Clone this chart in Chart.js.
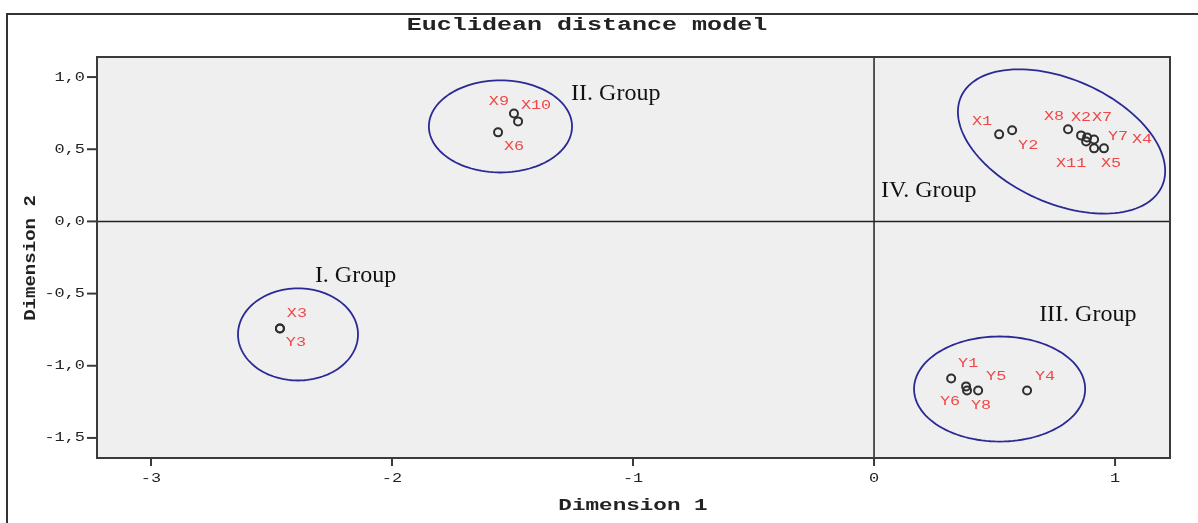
<!DOCTYPE html>
<html lang="en">
<head>
<meta charset="UTF-8">
<title>Euclidean distance model</title>
<script src="https://cdn.jsdelivr.net/npm/chart.js"></script>
<style>
  body { margin: 0; background: #fff; }
  canvas { display: block; }
</style>
</head>
<body>
<canvas id="myChart" width="1198" height="523"></canvas>
<script>
// stimulus coordinates
const names = ['X1','Y2','X8','X2','X7','Y7','X11','X5','X4',
               'Y1','Y6','Y8','Y5','Y4',
               'X9','X10','X6',
               'X3','Y3'];
const dim1 = [0.519, 0.573, 0.805, 0.859, 0.884, 0.913, 0.880, 0.913, 0.954,
              0.320, 0.382, 0.386, 0.432, 0.635,
              -1.494, -1.477, -1.560,
              -2.465, -2.465];
const dim2 = [0.603, 0.631, 0.638, 0.596, 0.582, 0.568, 0.554, 0.506, 0.506,
              -1.088, -1.143, -1.171, -1.171, -1.171,
              0.748, 0.693, 0.617,
              -0.742, -0.742];

const xTicks = [-3, -2, -1, 0, 1];
const xTickLabels = ['-3', '-2', '-1', '0', '1'];
const yTicks = [1.0, 0.5, 0.0, -0.5, -1.0, -1.5];
const yTickLabels = ['1,0', '0,5', '0,0', '-0,5', '-1,0', '-1,5'];

// group rings: centre and two conjugate half-axes, in data units
const groupNames = ['I. Group', 'II. Group', 'III. Group', 'IV. Group'];
const ringCx = [-2.390, -1.550, 0.521, 0.778];
const ringCy = [-0.783, 0.658, -1.161, 0.554];
const ringUx = [0.249, 0.297, 0.355, 0.417];
const ringUy = [0, 0, 0, -0.310];
const ringVx = [0, 0, 0, -0.105];
const ringVy = [0.319, 0.319, 0.364, -0.392];
const groupTextX = [-2.320, -1.257, 0.685, 0.029];
const groupTextY = [-0.374, 0.887, -0.644, 0.215];

// label offsets from each point, in pixels
const labelDx = [-17, 16, -14, 0, 15, 24, -15, 17, 38, 17, -16, 14, 18, 18, -15, 18, 16, 17, 16];
const labelDy = [-13, 15, -12, -18, -20, -3, 22, 15, -9, -15, 15, 15, -14, -14, -12, -16, 14, -15, 14];

const MONO = '"Liberation Mono", "DejaVu Sans Mono", monospace';
const SERIF = '"Liberation Serif", "DejaVu Serif", serif';

function stretchText(ctx, text, x, y, sx, align) {
    ctx.save();
    ctx.translate(x, y);
    ctx.scale(sx, 1);
    ctx.textAlign = align || 'center';
    ctx.textBaseline = 'middle';
    ctx.fillText(text, 0, 0);
    ctx.restore();
}

const spssPlugin = {
    id: 'spss',
    beforeDatasetsDraw(chart) {
        const { ctx, chartArea: a, scales: { x, y } } = chart;
        ctx.save();
        // plot background
        ctx.fillStyle = '#efefef';
        ctx.fillRect(a.left, a.top, a.right - a.left, a.bottom - a.top);
        // reference lines
        ctx.strokeStyle = '#222';
        ctx.lineWidth = 1.5;
        ctx.beginPath();
        ctx.moveTo(x.getPixelForValue(0), a.top);
        ctx.lineTo(x.getPixelForValue(0), a.bottom);
        ctx.moveTo(a.left, y.getPixelForValue(0));
        ctx.lineTo(a.right, y.getPixelForValue(0));
        ctx.stroke();
        // group rings
        ctx.strokeStyle = '#2a2a95';
        ctx.lineWidth = 1.8;
        for (let g = 0; g < groupNames.length; g++) {
            ctx.beginPath();
            for (let k = 0; k <= 120; k++) {
                const t = k / 120 * Math.PI * 2;
                const vx = ringCx[g] + ringUx[g] * Math.cos(t) + ringVx[g] * Math.sin(t);
                const vy = ringCy[g] + ringUy[g] * Math.cos(t) + ringVy[g] * Math.sin(t);
                const px = x.getPixelForValue(vx), py = y.getPixelForValue(vy);
                if (k === 0) ctx.moveTo(px, py); else ctx.lineTo(px, py);
            }
            ctx.closePath();
            ctx.stroke();
        }
        ctx.restore();
    },
    afterDatasetsDraw(chart) {
        const { ctx, chartArea: a, scales: { x, y } } = chart;
        ctx.save();
        // outer frame (only top and left show)
        ctx.strokeStyle = '#333';
        ctx.lineWidth = 2;
        ctx.beginPath();
        ctx.moveTo(1198, 14);
        ctx.lineTo(7, 14);
        ctx.lineTo(7, 523);
        ctx.stroke();
        // plot border
        ctx.strokeStyle = '#3a3a3a';
        ctx.lineWidth = 2;
        ctx.strokeRect(a.left, a.top, a.right - a.left, a.bottom - a.top);
        // ticks
        ctx.lineWidth = 2;
        ctx.fillStyle = '#222';
        ctx.font = '13px ' + MONO;
        xTicks.forEach((v, i) => {
            const px = x.getPixelForValue(v);
            ctx.beginPath();
            ctx.moveTo(px, a.bottom);
            ctx.lineTo(px, a.bottom + 8);
            ctx.stroke();
            stretchText(ctx, xTickLabels[i], px, a.bottom + 21, 1.3);
        });
        yTicks.forEach((v, i) => {
            const py = y.getPixelForValue(v);
            ctx.beginPath();
            ctx.moveTo(a.left - 10, py);
            ctx.lineTo(a.left, py);
            ctx.stroke();
            stretchText(ctx, yTickLabels[i], a.left - 12, py, 1.3, 'right');
        });
        // titles
        ctx.font = 'bold 18px ' + MONO;
        stretchText(ctx, 'Euclidean distance model', 587, 25, 1.39);
        ctx.font = 'bold 17px ' + MONO;
        stretchText(ctx, 'Dimension 1', 633, 506, 1.33);
        ctx.save();
        ctx.translate(31, 258);
        ctx.rotate(-Math.PI / 2);
        stretchText(ctx, 'Dimension 2', 0, 0, 1.12);
        ctx.restore();
        // point labels
        ctx.fillStyle = '#f04848';
        ctx.font = '12px ' + MONO;
        names.forEach((n, i) => {
            const px = x.getPixelForValue(dim1[i]);
            const py = y.getPixelForValue(dim2[i]);
            stretchText(ctx, n, px + labelDx[i], py + labelDy[i], 1.4);
        });
        // group captions
        ctx.fillStyle = '#111';
        ctx.font = '24px ' + SERIF;
        groupNames.forEach((n, g) => {
            ctx.textAlign = 'left';
            ctx.textBaseline = 'middle';
            ctx.fillText(n, x.getPixelForValue(groupTextX[g]), y.getPixelForValue(groupTextY[g]));
        });
        ctx.restore();
    }
};

const ctx = document.getElementById('myChart').getContext('2d');
new Chart(ctx, {
    type: 'scatter',
    data: {
        datasets: [{
            data: names.map((n, i) => ({ x: dim1[i], y: dim2[i] })),
            pointStyle: 'circle',
            pointRadius: 4,
            pointBorderWidth: 2,
            pointBorderColor: '#2e2e2e',
            pointBackgroundColor: 'rgba(0,0,0,0)'
        }]
    },
    options: {
        responsive: false,
        animation: false,
        layout: { padding: { left: 97, top: 57, right: 28, bottom: 65 } },
        plugins: { legend: { display: false }, tooltip: { enabled: false } },
        scales: {
            x: { type: 'linear', min: -3.224, max: 1.228, display: false },
            y: { type: 'linear', min: -1.639, max: 1.139, display: false }
        }
    },
    plugins: [spssPlugin]
});
</script>
</body>
</html>
